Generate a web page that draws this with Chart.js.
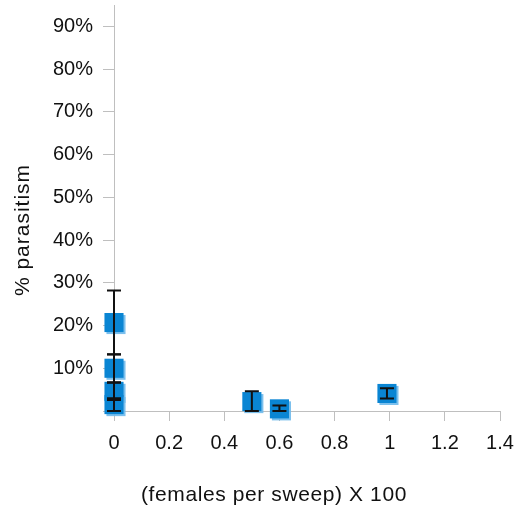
<!DOCTYPE html>
<html>
<head>
<meta charset="utf-8">
<script src="https://cdn.jsdelivr.net/npm/chart.js@4.4.0/dist/chart.umd.min.js"></script>
<style>
  html, body { margin: 0; padding: 0; background: #ffffff; }
</style>
</head>
<body>
<canvas id="myParasitismChart" width="517" height="510"></canvas>
<script>
// Chart data
let densityValues = [0, 0, 0, 0, 0.5, 0.6, 0.99];
let parasitismValues = [0.207, 0.10, 0.046, 0.015, 0.022, 0.005, 0.041];
let parasitismErrors = [0.075, 0.033, 0.020, 0.015, 0.024, 0.008, 0.012];

let xTickValues = [0, 0.2, 0.4, 0.6, 0.8, 1, 1.2, 1.4];
let yTickValues = [0, 0.1, 0.2, 0.3, 0.4, 0.5, 0.6, 0.7, 0.8, 0.9];

let xAxisTitle = '(females per sweep) X 100';
let yAxisTitle = '% parasitism';

let markerColour = '#0a85d3';
let axisColour = '#bfbfbf';
let textColour = '#111111';

// light blue shadow behind the square markers
let markerShadow = {
    id: 'markerShadow',
    beforeDatasetDraw(chart) {
        let ctx = chart.ctx;
        ctx.save();
        ctx.shadowColor = 'rgba(110, 185, 235, 0.9)';
        ctx.shadowOffsetX = 2;
        ctx.shadowOffsetY = 2;
        ctx.shadowBlur = 0;
    },
    afterDatasetDraw(chart) {
        chart.ctx.restore();
    }
};

// vertical error bars with caps, drawn on top of the markers
let errorBars = {
    id: 'errorBars',
    afterDatasetsDraw(chart) {
        let ctx = chart.ctx;
        let xScale = chart.scales.x;
        let yScale = chart.scales.y;
        ctx.save();
        ctx.strokeStyle = '#111111';
        ctx.lineWidth = 2;
        for (let i = 0; i < densityValues.length; i++) {
            let x = xScale.getPixelForValue(densityValues[i]);
            let yTop = yScale.getPixelForValue(parasitismValues[i] + parasitismErrors[i]);
            let yBottom = yScale.getPixelForValue(Math.max(0, parasitismValues[i] - parasitismErrors[i]));
            ctx.beginPath();
            ctx.moveTo(x, yTop);
            ctx.lineTo(x, yBottom);
            ctx.moveTo(x - 7, yTop);
            ctx.lineTo(x + 7, yTop);
            ctx.moveTo(x - 7, yBottom);
            ctx.lineTo(x + 7, yBottom);
            ctx.stroke();
        }
        ctx.restore();
    }
};

// axis titles sit off-centre in the original, so place them by hand
let axisTitles = {
    id: 'axisTitles',
    afterDraw(chart) {
        let ctx = chart.ctx;
        ctx.save();
        ctx.fillStyle = textColour;
        ctx.font = '21px "Liberation Sans", Arial, sans-serif';
        ctx.textBaseline = 'alphabetic';
        ctx.textAlign = 'left';
        ctx.letterSpacing = '0.6px';
        ctx.fillText(xAxisTitle, 141, 501);
        ctx.letterSpacing = '1px';
        ctx.textAlign = 'center';
        ctx.translate(28.5, 230);
        ctx.rotate(-Math.PI / 2);
        ctx.fillText(yAxisTitle, 0, 0);
        ctx.restore();
    }
};

function loadParasitismChart() {
    let points = [];
    for (let i = 0; i < densityValues.length; i++) {
        points.push({ x: densityValues[i], y: parasitismValues[i] });
    }

    let data = {
        datasets: [
            {
                label: yAxisTitle,
                data: points,
                backgroundColor: markerColour,
                borderColor: markerColour,
                borderWidth: 0,
                pointStyle: 'rect',
                pointRadius: 13.5,
                pointHoverRadius: 13.5,
                clip: false
            }
        ]
    };

    let tickFont = { family: '"Liberation Sans", Arial, sans-serif', size: 20 };

    let config = {
        type: 'scatter',
        data,
        options: {
            responsive: false,
            animation: false,
            layout: {
                autoPadding: false,
                padding: { top: 5, right: 17, left: 0, bottom: 0 }
            },
            plugins: {
                legend: { display: false },
                tooltip: { enabled: false }
            },
            scales: {
                x: {
                    type: 'linear',
                    min: 0,
                    max: 1.4,
                    afterBuildTicks: function (scale) {
                        scale.ticks = xTickValues.map(v => ({ value: v }));
                    },
                    afterFit: function (scale) {
                        scale.height = 99;
                        scale.paddingLeft = 0;
                        scale.paddingRight = 0;
                    },
                    grid: {
                        drawOnChartArea: false,
                        drawTicks: true,
                        tickLength: 10,
                        color: axisColour
                    },
                    border: { color: axisColour, width: 1 },
                    ticks: {
                        color: textColour,
                        font: tickFont,
                        padding: 10,
                        maxRotation: 0,
                        callback: function (value) {
                            return String(Math.round(value * 10) / 10);
                        }
                    }
                },
                y: {
                    type: 'linear',
                    min: 0,
                    max: 0.95,
                    afterBuildTicks: function (scale) {
                        scale.ticks = yTickValues.map(v => ({ value: v }));
                    },
                    afterFit: function (scale) {
                        scale.width = 114;
                        scale.paddingTop = 0;
                        scale.paddingBottom = 0;
                    },
                    grid: {
                        drawOnChartArea: false,
                        drawTicks: true,
                        tickLength: 11,
                        color: axisColour
                    },
                    border: { color: axisColour, width: 1 },
                    ticks: {
                        color: textColour,
                        font: tickFont,
                        padding: 10,
                        callback: function (value) {
                            if (value == 0) {
                                return '';
                            }
                            return Math.round(value * 100) + '%';
                        }
                    }
                }
            }
        },
        plugins: [markerShadow, errorBars, axisTitles]
    };

    let parasitismChart = new Chart(
        document.getElementById('myParasitismChart'),
        config
    );
}

loadParasitismChart();
</script>
</body>
</html>
